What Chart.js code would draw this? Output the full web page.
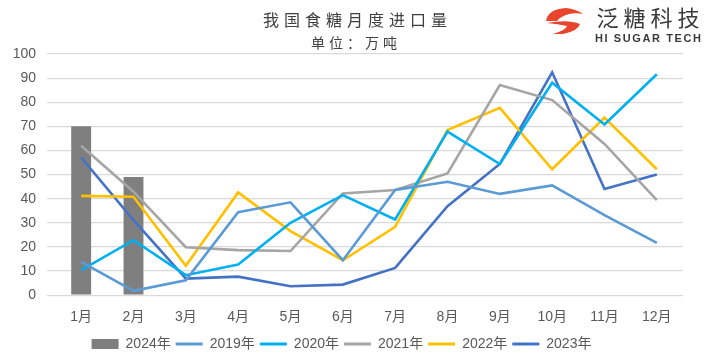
<!DOCTYPE html>
<html>
<head>
<meta charset="utf-8">
<script src="https://cdn.jsdelivr.net/npm/chart.js@4/dist/chart.umd.min.js"></script>
<style>
  html, body { margin: 0; padding: 0; background: #fff; }
  #wrap { width: 712px; height: 361px; position: relative; }
</style>
</head>
<body>
<div id="wrap"><canvas id="c" width="712" height="361"></canvas></div>
<script>
const months = ['1月', '2月', '3月', '4月', '5月', '6月', '7月', '8月', '9月', '10月', '11月', '12月'];
const y2024 = [70, 49];
const y2019 = [13.8, 1.8, 6.2, 34.4, 38.5, 14.5, 43.6, 47, 42, 45.5, 33.2, 21.7];
const y2020 = [10.4, 22.8, 8.3, 12.7, 30, 41.5, 31.4, 67.8, 54.4, 88.1, 70.8, 91.6];
const y2021 = [62, 42.9, 19.9, 18.7, 18.3, 42.2, 43.6, 50.5, 87.1, 80.9, 62.7, 39.4];
const y2022 = [41.2, 40.8, 12.2, 42.6, 26.6, 14.5, 28.3, 68.5, 77.7, 52.2, 73.6, 52.2];
const y2023 = [57.1, 31.1, 6.9, 7.7, 3.7, 4.4, 11.3, 36.9, 54.4, 92.4, 44, 50];
const yTicks = [0, 10, 20, 30, 40, 50, 60, 70, 80, 90, 100];

const FONT = '"Liberation Sans", "Noto Sans CJK SC", sans-serif';
const TXT = '#595959';

// draw text centred on cx with extra spacing between characters
function spaced(c, str, cx, cy, gap) {
  const chars = [...str];
  const ws = chars.map(ch => c.measureText(ch).width);
  const total = ws.reduce((a, b) => a + b, 0) + gap * (chars.length - 1);
  let x = cx - total / 2;
  c.textAlign = 'left';
  chars.forEach((ch, i) => { c.fillText(ch, x, cy); x += ws[i] + gap; });
}

// title + logo
const header = {
  id: 'header',
  afterDraw(chart) {
    const c = chart.ctx;
    c.save();
    c.fillStyle = '#404040';
    c.textBaseline = 'middle';
    c.font = '16px "Noto Sans CJK SC", serif';
    spaced(c, '我国食糖月度进口量', 355, 20, 5);
    c.font = '14px "Noto Sans CJK SC", serif';
    spaced(c, '单位：万吨', 354, 43, 4);

    // logo icon
    c.fillStyle = '#e8452c';
    c.beginPath();
    c.moveTo(546, 21);
    c.quadraticCurveTo(548, 9, 566, 8);
    c.quadraticCurveTo(576, 9, 583, 14);
    c.quadraticCurveTo(566, 11, 557, 21);
    c.closePath();
    c.fill();
    c.beginPath();
    c.moveTo(547, 23);
    c.quadraticCurveTo(568, 19, 580, 24);
    c.quadraticCurveTo(578, 31, 563, 34);
    c.lineTo(553, 34);
    c.quadraticCurveTo(566, 30, 567, 26);
    c.quadraticCurveTo(558, 24, 547, 23);
    c.closePath();
    c.fill();

    c.fillStyle = '#3a3a3a';
    c.font = '22px "Noto Sans CJK SC", sans-serif';
    spaced(c, '泛糖科技', 648, 18, 5);
    c.font = 'bold 11px "Liberation Sans", sans-serif';
    spaced(c, 'HI SUGAR TECH', 648, 39, 1.6);
    c.restore();
  }
};

const lineDs = (label, data, color) => ({
  type: 'line', label, data,
  borderColor: color, backgroundColor: color,
  borderWidth: 2.6, pointRadius: 0, tension: 0, order: 1
});

new Chart(document.getElementById('c'), {
  data: {
    labels: months,
    datasets: [
      { type: 'bar', label: '2024年', data: y2024, backgroundColor: '#7f7f7f',
        barPercentage: 0.38, categoryPercentage: 1, order: 2 },
      lineDs('2019年', y2019, '#5b9bd5'),
      lineDs('2020年', y2020, '#00b0f0'),
      lineDs('2021年', y2021, '#a5a5a5'),
      lineDs('2022年', y2022, '#ffc000'),
      lineDs('2023年', y2023, '#4472c4')
    ]
  },
  options: {
    responsive: false,
    animation: false,
    layout: { padding: { top: 54, right: 29, left: 0, bottom: 0 } },
    scales: {
      x: {
        grid: { display: false },
        border: { display: false },
        ticks: { color: TXT, font: { family: FONT, size: 14 }, maxRotation: 0, padding: 6 }
      },
      y: {
        min: 0, max: 100,
        afterFit(s) { s.width = 55; },
        afterBuildTicks(s) { s.ticks = yTicks.map(v => ({ value: v })); },
        grid: { color: '#d9d9d9', lineWidth: 1.2 },
        border: { display: false },
        ticks: { color: TXT, font: { family: FONT, size: 14 }, padding: 11 }
      }
    },
    plugins: {
      tooltip: { enabled: false },
      legend: {
        position: 'bottom',
        labels: {
          color: TXT,
          font: { family: FONT, size: 14 },
          padding: 5,
          usePointStyle: true,
          pointStyleWidth: 27,
          boxHeight: 10,
          generateLabels(chart) {
            return chart.data.datasets.map((d, i) => ({
              text: d.label,
              fillStyle: d.type === 'bar' ? d.backgroundColor : d.borderColor,
              strokeStyle: d.type === 'bar' ? d.backgroundColor : d.borderColor,
              lineWidth: d.type === 'bar' ? 0 : 3,
              pointStyle: d.type === 'bar' ? 'rect' : 'line',
              fontColor: TXT,
              datasetIndex: i
            }));
          }
        }
      }
    }
  },
  plugins: [header]
});
</script>
</body>
</html>
